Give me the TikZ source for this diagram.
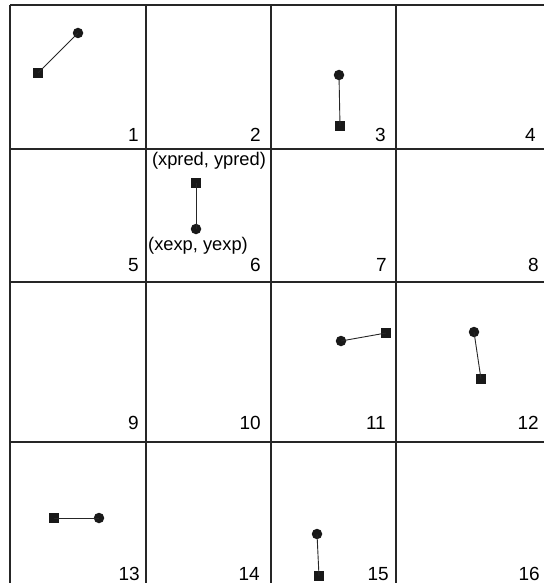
\documentclass[tikz,border=0pt]{standalone}
\usepackage{fontspec}
\setmainfont{Liberation Sans}
\begin{document}
\begin{tikzpicture}[x=1pt,y=-1pt,
  gridline/.style={line width=1.1pt,draw=black!85},
  sq/.style={rectangle,fill=black!90,minimum size=10pt,inner sep=0pt},
  dot/.style={circle,fill=black!90,minimum size=10.5pt,inner sep=0pt},
  link/.style={line width=0.9pt,draw=black!85},
  num/.style={anchor=base east,inner sep=0pt,font=\fontsize{19}{19}\selectfont},
  lbl/.style={inner sep=0pt,font=\fontsize{18.3}{19}\selectfont}]
\useasboundingbox (0,0) rectangle (544,583);
% grid
\foreach \x in {10,146,271,396} \draw[gridline] (\x,5) -- (\x,583);
\foreach \y in {5,149,282,442} \draw[gridline] (10,\y) -- (544,\y);
% cell numbers
\node[num] (n1) at (139,141) {1};
\node[num] (n2) at (261,141) {2};
\node[num] (n3) at (386,141) {3};
\node[num] (n4) at (536,141) {4};
\node[num] (n5) at (139,271) {5};
\node[num] (n6) at (261,271) {6};
\node[num] (n7) at (387,271) {7};
\node[num] (n8) at (539,271) {8};
\node[num] (n9) at (139,429) {9};
\node[num] (n10) at (261,429) {10};
\node[num] (n11) at (386,429) {11};
\node[num] (n12) at (539,429) {12};
\node[num] (n13) at (140,580) {13};
\node[num] (n14) at (260,580) {14};
\node[num] (n15) at (389,580) {15};
\node[num] (n16) at (540,580) {16};
% cell 1
\node[sq] (s1) at (38,73) {};
\node[dot] (c1) at (78,33) {};
\draw[link] (s1.center) -- (c1.center);
% cell 3
\node[dot] (c3) at (339,75) {};
\node[sq] (s3) at (340,126) {};
\draw[link] (c3.center) -- (s3.center);
% cell 6
\node[sq] (s6) at (196,183) {};
\node[dot] (c6) at (196,229) {};
\draw[link] (s6.center) -- (c6.center);
\node[lbl] (tpred) at (209,161) {(xpred, ypred)};
\node[lbl] (texp) at (198,246) {(xexp, yexp)};
% cell 11
\node[dot] (c11) at (341,341) {};
\node[sq] (s11) at (386,333) {};
\draw[link] (c11.center) -- (s11.center);
% cell 12
\node[dot] (c12) at (474,332) {};
\node[sq] (s12) at (481,379) {};
\draw[link] (c12.center) -- (s12.center);
% cell 13
\node[sq] (s13) at (54,518) {};
\node[dot] (c13) at (99,518) {};
\draw[link] (s13.center) -- (c13.center);
% cell 15
\node[dot] (c15) at (317,534) {};
\node[sq] (s15) at (319,576) {};
\draw[link] (c15.center) -- (s15.center);
\end{tikzpicture}
\end{document}
